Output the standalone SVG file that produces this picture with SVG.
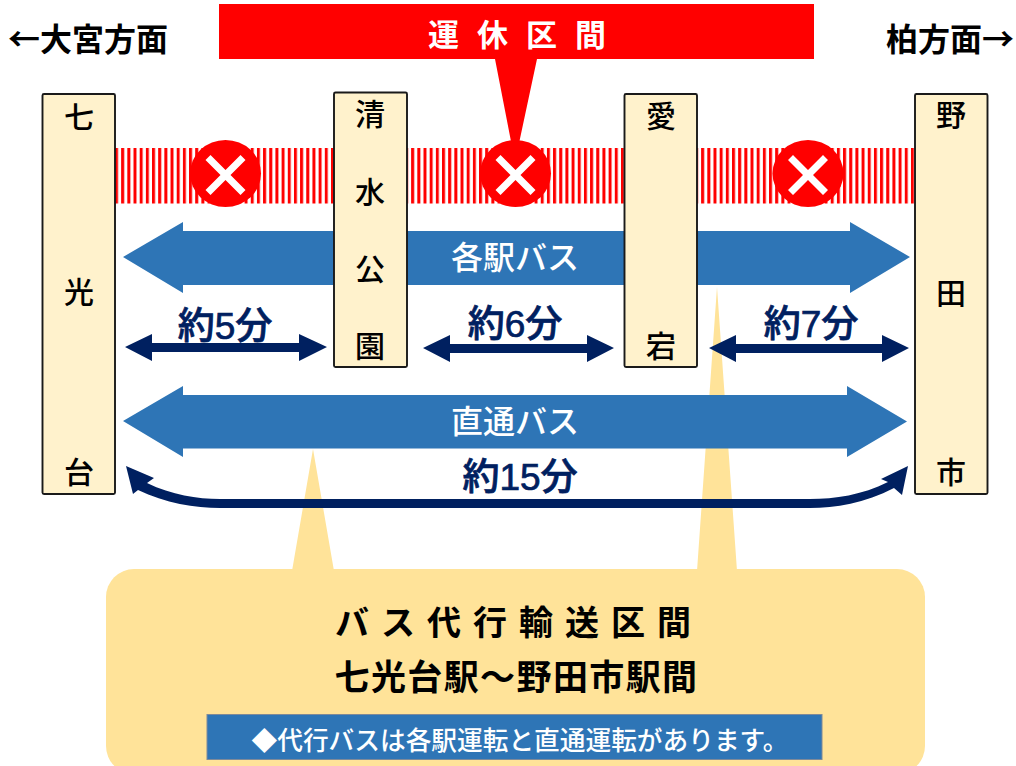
<svg xmlns="http://www.w3.org/2000/svg" width="1016" height="766" viewBox="0 0 1016 766">
<style>
text{font-family:"Noto Sans CJK JP","Liberation Sans",sans-serif;text-anchor:middle}
.st rect{fill:#fff2cc;stroke:#1a1a1a;stroke-width:1.9}
.st text{font-size:30px;fill:#000;font-weight:500}
.h{font-size:32px;font-weight:700;fill:#000}
.t{font-family:"Liberation Sans","Noto Sans CJK JP",sans-serif;font-size:37px;font-weight:500;fill:#002060;stroke:#002060;stroke-width:.7}
.w{font-size:32px;font-weight:500;fill:#fff}
.big{fill:#2e75b6}
.nav{fill:#002060}
.x{fill:#fff}
</style>
<defs>
<pattern id="stripe" x="115" y="0" width="6.17" height="10" patternUnits="userSpaceOnUse"><rect width="3" height="10" fill="#f00"/></pattern>
<g id="xm"><ellipse cy="-1.500" rx="35.500" ry="33.500" fill="#f00"/><path class="x" d="M-20-15-15-20 0-5 15-20 20-15 5 0 20 15 15 20 0 5-15 20-20 15-5 0Z"/></g>
</defs>
<g id="band"><rect x="115" y="148" width="800" height="55.500" fill="url(#stripe)"/></g>
<g id="callout-yellow"><path fill="#ffe399" d="M313 449 334 571H292ZM717 287 737 571H697Z"/><rect x="106" y="569" width="819" height="205" rx="28" fill="#ffe399"/></g>
<g id="connectors">
<path class="big" d="M123 257 183 222V231H850V222L910 257 850 293V285H183V293Z"/>
<path class="big" d="M123 421 183 386V395H847V386L907 421.500 847 457V448.500H183V457Z"/>
<path class="nav" d="M125 347 152 334V343H299V334L327 347 299 361V352H152V361Z"/>
<path class="nav" d="M423 348 450 335V344H587V335L614 348 587 362V353H450V362Z"/>
<path class="nav" d="M709 348 736 335V344H882V335L909 348 882 362V353H736V362Z"/>
<path class="nav" d="M126 466 154 478 147 483C172 495 197 499 220 499H810C835 499 862 495 888 482L881 479 908 466 902 495 894 488C865 503 835 508 810 508H220C195 508 165 503 138 490L133 494Z"/>
</g>
<g id="node-nanakodai" class="st"><rect x="42.500" y="94" width="72.500" height="400" rx="1.500"/><text x="79" y="128">七</text><text x="79" y="303">光</text><text x="79" y="483">台</text></g>
<g id="node-shimizukoen" class="st"><rect x="334" y="92.500" width="73" height="274.500" rx="1.500"/><text x="370" y="125">清</text><text x="370" y="203">水</text><text x="370" y="280">公</text><text x="370" y="357">園</text></g>
<g id="node-atago" class="st"><rect x="624.500" y="94" width="72.500" height="273" rx="1.500"/><text x="661" y="127">愛</text><text x="661" y="357">宕</text></g>
<g id="node-nodashi" class="st"><rect x="915" y="94" width="72.500" height="400" rx="1.500"/><text x="951" y="126">野</text><text x="951" y="304">田</text><text x="951" y="483">市</text></g>
<g id="callout-red"><path fill="#f00" d="M219 4H814V59H537L515 162 495 59H219Z"/><text x="526" y="46" style="font-size:31px;font-weight:700;fill:#fff;letter-spacing:18px">運休区間</text></g>
<use href="#xm" x="225.500" y="175"/><use href="#xm" x="515.500" y="175"/><use href="#xm" x="808" y="175"/>
<g id="labels">
<text class="h" x="88" y="51">←大宮方面</text><text class="h" x="950" y="51">柏方面→</text>
<text class="w" x="515" y="269">各駅バス</text><text class="w" x="515" y="433">直通バス</text>
<text class="t" x="225" y="339">約5分</text><text class="t" x="515" y="337">約6分</text><text class="t" x="811" y="337">約7分</text><text class="t" x="520" y="490">約15分</text>
</g>
<g id="info"><text style="font-size:34px;font-weight:700;fill:#000;letter-spacing:12px" x="519" y="635">バス代行輸送区間</text><text style="font-size:35px;font-weight:700;fill:#000;letter-spacing:1.400px" x="516.500" y="690">七光台駅～野田市駅間</text>
<rect x="207" y="714.500" width="615" height="45" fill="#2e75b6" stroke="#7f8a99"/><text x="520" y="750" style="font-size:25.700px;font-weight:500;fill:#fff">◆代行バスは各駅運転と直通運転があります。</text></g>
</svg>
